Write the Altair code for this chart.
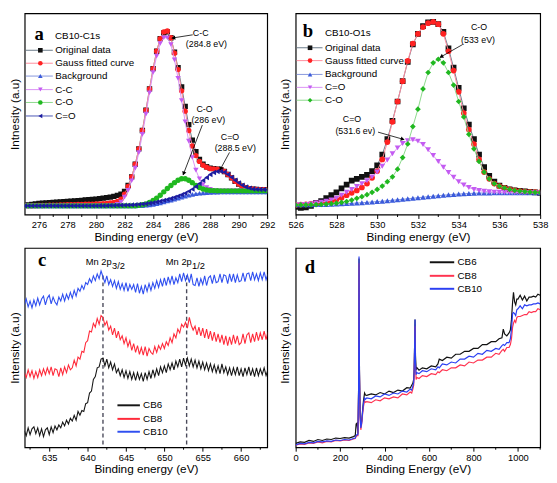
import math
import altair as alt
import pandas as pd

FONT = "Liberation Sans"
SERIF = "Liberation Serif"

# ---------------- panel a : CB10-C1s (intensity in picture units) ----------------
A_X = [round(275 + 0.25 * i, 2) for i in range(69)]
A_ORIG = [9.5, 10, 10.5, 11, 11.5, 11.8, 12, 12.3, 12.5, 12.8, 13, 13.3,
          13.5, 13.8, 14, 14.3, 14.6, 15, 15.3, 15.7, 16, 16.5, 17, 17.5,
          18, 18.8, 19.8, 21, 24, 30, 39, 52, 68, 87, 108, 130,
          151, 169, 182, 188, 189, 183, 168, 152, 132, 112, 93, 77,
          65, 57, 52, 49.5, 48, 47.5, 47, 46.5, 44.5, 41.5, 38, 34.5,
          31.5, 29.3, 27.8, 26.8, 26.2, 25.9, 25.7, 25.6, 25.5]
A_FIT = [9.0, 9.0, 9.1, 9.2, 9.3, 9.4, 9.5, 9.6, 9.7, 9.8, 9.9, 10.0,
         10.1, 10.2, 10.3, 10.4, 10.5, 10.6, 10.7, 10.8, 10.9, 11.1, 11.3, 11.6,
         12.0, 12.6, 13.6, 16.0, 21, 29, 39, 52, 68, 87, 108, 130,
         151, 169, 182, 189, 190, 183, 167, 150, 128, 107, 87, 71,
         61, 55, 51, 49, 47.5, 47.3, 47, 46.3, 44.5, 41.5, 38, 34.5,
         31.5, 29.3, 27.8, 26.8, 26.2, 25.9, 25.7, 25.6, 25.5]
A_BG = [9, 9, 9, 9, 9, 9, 9, 9, 9, 9, 9, 9, 9, 9, 9, 9,
        9, 9, 9, 9, 9, 9, 9, 9, 9, 9, 9, 9, 9, 9, 9, 9,
        9.1, 9.3, 9.6, 10, 10.5, 11.2, 12, 13, 14, 15, 16, 17,
        18, 19, 20, 20.8, 21.5, 22, 22.4, 22.7, 23, 23.1, 23.2, 23.3,
        23.4, 23.4, 23.5, 23.5, 23.5, 23.5, 23.5, 23.5, 23.5, 23.5, 23.5, 23.5, 23.5]
A_CC = [9, 9, 9, 9, 9, 9, 9, 9, 9, 9, 9, 9,
        9, 9, 9, 9, 9, 9, 9, 9, 9, 9, 9, 9,
        9.2, 9.6, 10.5, 13, 18, 25, 35, 48, 64, 83, 104, 126,
        147, 164, 177, 183, 183, 176, 160, 141, 118, 96, 76, 59,
        46, 37, 31, 28, 26, 25, 24.5, 24.5,
        24.5, 24.5, 24.5, 24.5, 24.5, 24.5, 24.5, 24.5, 24.5, 24.5, 24.5, 24.5, 24.5]
A_CO = [9, 9, 9, 9, 9, 9, 9, 9, 9, 9, 9, 9, 9, 9, 9, 9,
        9, 9, 9, 9, 9, 9, 9, 9, 9, 9, 9, 9, 9, 9, 9, 9,
        9.5, 10.2, 11, 12.5, 14.5, 17, 20, 23.5, 27, 30, 33, 35.5,
        37, 37, 35.5, 33, 30, 28, 26.5, 25.5, 25, 24.8, 24.6, 24.5,
        24.5, 24.5, 24.5, 24.5, 24.5, 24.5, 24.5, 24.5, 24.5, 24.5, 24.5, 24.5, 24.5]
A_CDO = [9, 9, 9, 9, 9, 9, 9, 9, 9, 9, 9, 9, 9, 9, 9, 9, 9, 9, 9, 9,
         9.0, 9.1, 9.1, 9.2, 9.3, 9.4, 9.5, 9.6, 9.7, 9.8, 10.0, 10.2,
         10.5, 10.8, 11.2, 11.7, 12.2, 13.0, 13.8, 14.7, 15.6, 16.6, 17.8, 19.1,
         20.5, 22, 24, 26.3, 29, 32, 35.3, 38.3, 41.5, 43.5, 44.5, 44.7,
         43.8, 41.5, 38.5, 35.5, 32.8, 30.3, 28.5, 27.3, 26.5, 26.1, 25.9, 25.8, 25.7]

# ---------------- panel b : CB10-O1s ----------------
B_X = [round(526 + 0.25 * i, 2) for i in range(49)]
B_ORIG = [8, 7, 7.5, 9, 12, 14, 17, 20, 23, 27, 31, 35, 37, 39, 41, 45,
          51, 62, 78, 97, 117, 138, 158, 176, 187, 195, 199, 199.5,
          197, 189, 172, 152, 131, 110, 93, 78, 62, 49, 40, 34,
          30, 27.5, 26, 25, 24.5, 24, 23.5, 23, 22.5]
B_FIT = [10, 10.3, 10.6, 11, 11.5, 12, 12.8, 14, 15.5, 17.5, 20, 22.5, 25, 28, 32, 38,
         45, 57, 75, 96, 117, 138, 159, 177, 187, 194, 198, 199.5,
         197, 187, 169, 149, 127, 105, 88, 73, 57, 44, 37, 32,
         29.5, 27.5, 26, 25, 24.3, 23.8, 23.5, 23.2, 23]
B_BG = [10, 10, 10.1, 10.2, 10.3, 10.4, 10.5, 10.7, 10.9, 11.1, 11.3, 11.6,
        11.9, 12.2, 12.6, 13.0, 13.4, 13.8, 14.3, 14.8, 15.3, 15.8, 16.3, 16.9,
        17.4, 18.0, 18.5, 19.0, 19.5, 20.0, 20.4, 20.8, 21.2, 21.5, 21.8, 22.0,
        22.2, 22.3, 22.4, 22.5, 22.5, 22.5, 22.5, 22.5, 22.5, 22.5, 22.5, 22.5, 22.5]
B_CDO = [10, 10.2, 10.5, 11, 12, 12.8, 13.8, 15.2, 17, 20, 23, 26, 29, 32, 35, 39,
         44, 50, 56.5, 63, 69, 73.5, 76.5, 77.3, 76, 72.5, 67, 61,
         55, 49, 43.5, 38.5, 34, 30.5, 28, 26, 24.8, 24, 23.5, 23.2,
         23, 22.9, 22.8, 22.7, 22.6, 22.6, 22.5, 22.5, 22.5]
B_CO = [10, 10, 10.1, 10.2, 10.3, 10.5, 10.8, 11.2, 11.8, 12.5, 13.5, 15,
        16.8, 18.5, 20.5, 23, 26, 29.5, 34, 39, 47, 59, 73, 91,
        109, 130, 147, 157, 160.7, 157, 147, 134, 117, 101, 83, 68,
        55, 44, 37, 32, 29.5, 27.5, 26, 25, 24.3, 23.8, 23.3, 23, 22.8]

# ---------------- panel c : Mn 2p ----------------
C_X = [round(631.75 + 0.25 * i, 2) for i in range(128)]
C_CB10 = [147,
          153, 145, 151, 144, 152, 146, 154, 147, 153, 156, 147, 154,
          157, 148, 155, 150, 147, 155, 151, 158, 151, 158, 153, 160,
          154, 162, 156, 164, 161, 167, 163, 170, 168, 174, 170, 177,
          172, 179, 174, 182, 176, 170, 177, 168, 173, 166, 172, 164,
          171, 163, 169, 162, 170, 161, 168, 163, 168, 160, 169, 159,
          166, 158, 168, 161, 169, 162, 170, 164, 172, 165, 173, 166,
          175, 167, 176, 169, 177, 168, 175, 170, 179, 171, 180, 172,
          178, 170, 179, 168, 167, 175, 166, 174, 168, 177, 167, 175,
          177, 169, 178, 170, 171, 179, 170, 178, 177, 169, 179, 171,
          179, 170, 178, 171, 172, 180, 171, 179, 180, 172, 181, 173,
          179, 172, 180, 173, 181, 173, 179]
C_CB8 = [77,
         72, 80, 73, 79, 71, 78, 72, 80, 74, 81, 75, 82,
         76, 83, 74, 81, 80, 73, 82, 75, 83, 77, 85, 80,
         82, 90, 84, 93, 91, 99, 98, 108, 110, 120, 119, 128,
         124, 133, 127, 136, 134, 126, 130, 121, 125, 116, 123, 113,
         120, 111, 115, 107, 113, 104, 110, 100, 107, 98, 105, 96,
         103, 95, 104, 94, 102, 98, 96, 104, 98, 105, 101, 107,
         102, 109, 105, 113, 108, 117, 113, 122, 118, 127, 124, 129,
         123, 134, 126, 121, 125, 116, 124, 115, 123, 113, 122, 112,
         120, 110, 119, 109, 117, 108, 116, 106, 115, 105, 114, 106,
         116, 107, 115, 106, 108, 117, 107, 116, 118, 108, 117, 109,
         119, 110, 118, 111, 120, 111, 119]
C_CB6 = [17,
         12, 20, 13, 19, 21, 14, 20, 12, 19, 11, 18, 20,
         13, 21, 15, 22, 18, 23, 20, 26, 22, 28, 24, 30,
         27, 33, 28, 37, 33, 38, 37, 45, 46, 56, 58, 70,
         73, 82, 83, 91, 92, 84, 91, 82, 88, 80, 86, 77,
         81, 74, 80, 72, 79, 71, 78, 70, 77, 69, 77, 70,
         76, 68, 77, 70, 78, 71, 80, 73, 81, 74, 83, 77,
         84, 77, 86, 80, 87, 80, 89, 83, 91, 83, 92, 85,
         92, 84, 91, 83, 90, 82, 89, 81, 88, 80, 87, 79,
         86, 78, 85, 77, 84, 76, 86, 77, 83, 75, 82, 74,
         82, 75, 83, 74, 81, 73, 82, 75, 83, 74, 81, 73,
         82, 74, 81, 75, 82, 74, 80]

# ---------------- panel d : survey ----------------
D_X = [0, 20, 40, 60, 80, 100, 120, 140, 160, 180,
       200, 220, 240, 260, 268, 272, 276, 280, 283, 285,
       287, 290, 293, 297, 301, 305, 310, 314, 320, 340,
       360, 380, 400, 420, 440, 460, 480, 500, 515, 522,
       527, 531, 533, 535, 537, 539, 542, 546, 555, 570,
       590, 610, 630, 640, 646, 660, 680, 700, 720, 740,
       760, 780, 800, 820, 840, 860, 880, 900, 915, 928,
       934, 940, 950, 960, 966, 971, 976, 980, 985, 990,
       995, 1000, 1010, 1020, 1030, 1040, 1050, 1060, 1070, 1080,
       1090, 1100]
D_CB6 = [4, 5.5, 5, 7, 6, 8, 7, 8.5, 8, 9.5,
         9, 10, 9.5, 11, 12, 24, 25, 14, 60, 195,
         80, 35, 22, 27, 38, 48, 56, 54, 53.5, 55,
         54, 56.5, 55, 58, 56.5, 59, 58, 61.5, 61, 64,
         66, 70, 80, 105, 132, 95, 80, 82, 79.5, 82,
         81, 84, 83, 86, 91, 89.5, 93, 92, 96, 96,
         99, 99, 102, 102, 106, 106, 109, 109, 112, 113,
         122, 117, 115, 118, 121, 132, 150, 160, 150, 147,
         153, 153, 157, 152, 156, 151, 155, 155, 156, 155,
         158, 157]
D_CB8 = [2, 3.5, 3, 4.5, 4, 5.5, 4.5, 6, 5.5, 7,
         6.5, 7.5, 7, 8.5, 9, 11, 12, 12, 55, 190,
         75, 30, 18, 24, 34, 42, 48, 46.5, 47, 46,
         49, 48, 51, 50, 52, 51, 55, 54, 57, 56,
         60, 64, 75, 100, 125, 85, 70, 72, 71, 74,
         73, 76, 75, 78, 77, 80, 79, 82, 82, 85,
         84, 88, 87, 90, 90, 93, 93, 97, 96, 100,
         101, 99, 103, 103, 106, 112, 124, 128, 131, 129,
         134, 135, 135, 136, 137, 137, 140, 139, 140, 140,
         143, 142]
D_CB10 = [2.5, 4, 3.5, 5, 4.5, 6, 5.5, 6.5, 6, 7.5,
          7, 8, 7.5, 9, 9.5, 12, 13, 13, 58, 197,
          78, 32, 20, 25, 36, 45, 51, 49.5, 51, 50,
          53, 52, 55, 53.5, 56, 55, 58, 57, 60, 59,
          63, 67, 78, 104, 132, 88, 75, 77, 76, 79,
          78, 81, 80, 83, 82, 86, 85, 88, 87, 91,
          91, 94, 93, 97, 96, 100, 99, 102, 101, 105,
          106, 105, 108, 108, 112, 122, 138, 139, 138, 136,
          142, 143, 146, 143, 147, 146, 147, 147, 148, 148,
          149, 148]

# tick values
A_TICKS = [276, 278, 280, 282, 284, 286, 288, 290, 292]
A_MINOR = [277, 279, 281, 283, 285, 287, 289, 291]
B_TICKS = [526, 528, 530, 532, 534, 536, 538]
B_MINOR = [527, 529, 531, 533, 535, 537]
C_TICKS = [635, 640, 645, 650, 655, 660]
C_MINOR = [632.5, 637.5, 642.5, 647.5, 652.5, 657.5, 662.5]
D_TICKS = [0, 200, 400, 600, 800, 1000]
D_MINOR = [100, 300, 500, 700, 900, 1100]
C_PEAKS = [642.0, 652.9]

# reference frame geometry (used to place labels relative to each panel)
REF = {
    "a": dict(left=16.7, top=1.0, w=252.6, h=208.3, xd=(275, 292), yd=(0, 208.3)),
    "b": dict(left=296.0, top=1.0, w=250.3, h=208.3, xd=(526, 538), yd=(0, 208.3)),
    "c": dict(left=16.7, top=243.5, w=252.6, h=205.8, xd=(631.8, 663.4), yd=(0, 205.8)),
    "d": dict(left=296.0, top=243.5, w=250.3, h=205.8, xd=(0, 1100), yd=(0, 205.8)),
}


def ref_xy(p, px, py):
    g = REF[p]
    (x0, x1), (y0, y1) = g["xd"], g["yd"]
    x = x0 + (px - g["left"]) / g["w"] * (x1 - x0)
    y = y0 + (g["top"] + g["h"] - py) / g["h"] * (y1 - y0)
    return round(x, 4), round(y, 4)


def axes(p, xvals, xtitle, ytitle, ytpad):
    g = REF[p]
    X = alt.X("x:Q", scale=alt.Scale(domain=list(g["xd"]), nice=False, zero=False),
              axis=alt.Axis(values=xvals, format="d", title=xtitle, grid=False, domain=False,
                            tickSize=4, tickWidth=1, tickColor="black",
                            labelFont=FONT, labelFontSize=9.5, labelColor="black", labelPadding=1.5,
                            labelFlush=False, labelOverlap=False,
                            titleFont=FONT, titleFontSize=12, titleFontWeight="normal",
                            titleColor="black", titlePadding=2))
    Y = alt.Y("y:Q", scale=alt.Scale(domain=list(g["yd"]), nice=False, zero=False),
              axis=alt.Axis(title=ytitle, labels=False, ticks=False, domain=False, grid=False,
                            titleFont=FONT, titleFontSize=12, titleFontWeight="normal",
                            titleColor="black", titlePadding=ytpad))
    return X, Y


def minor_ticks(X, vals, H):
    return alt.Chart(pd.DataFrame({"x": vals})).mark_rule(color="black", strokeWidth=1).encode(
        x=X, y=alt.value(H), y2=alt.value(H + 2.5))


def marker_series(X, Y, xs, ys, color, lcolor, shape, size=26):
    assert len(xs) == len(ys)
    base = alt.Chart(pd.DataFrame({"x": xs, "y": ys})).encode(x=X, y=Y)
    return [base.mark_line(color=lcolor, strokeWidth=1, clip=True),
            base.mark_point(shape=shape, filled=True, color=color, size=size, opacity=1,
                            strokeWidth=0, clip=True)]


def line_series(X, Y, xs, ys, color, width=1.1):
    assert len(xs) == len(ys)
    return alt.Chart(pd.DataFrame({"x": xs, "y": ys})).mark_line(
        color=color, strokeWidth=width, clip=True).encode(x=X, y=Y)


def texts(p, X, Y, items, **kw):
    rows = []
    for px, py, t in items:
        x, y = ref_xy(p, px, py)
        rows.append({"x": x, "y": y, "t": t})
    return alt.Chart(pd.DataFrame(rows)).mark_text(**kw).encode(x=X, y=Y, text="t:N")


def arrow(p, X, Y, start, tip):
    x1, y1 = ref_xy(p, *start)
    x2, y2 = ref_xy(p, *tip)
    dx, dy = tip[0] - start[0], tip[1] - start[1]
    L = math.hypot(dx, dy)
    ang = math.degrees(math.atan2(dx, -dy)) % 360
    hx, hy = ref_xy(p, tip[0] - 2.2 * dx / L, tip[1] - 2.2 * dy / L)
    line = alt.Chart(pd.DataFrame({"x": [x1], "y": [y1], "x2": [x2], "y2": [y2]})).mark_rule(
        color="black", strokeWidth=0.8).encode(x=X, y=Y, x2="x2:Q", y2="y2:Q")
    head = alt.Chart(pd.DataFrame({"x": [hx], "y": [hy]})).mark_point(
        shape="triangle", filled=True, color="black", size=20, angle=ang, opacity=1,
        strokeWidth=0).encode(x=X, y=Y)
    return [line, head]


def legend(p, X, Y, rows, ys, lx1, lx2, mx, tx, line_w, fs, with_marker=True):
    rr, pp, tt = [], [], []
    for (lab, col, lcol, shp), py in zip(rows, ys):
        x1, y = ref_xy(p, lx1, py)
        x2, _ = ref_xy(p, lx2, py)
        xm, _ = ref_xy(p, mx, py)
        xt, _ = ref_xy(p, tx, py)
        rr.append({"x": x1, "x2": x2, "y": y, "c": lcol})
        pp.append({"x": xm, "y": y, "c": col, "s": shp})
        tt.append({"x": xt, "y": y, "t": lab})
    out = [alt.Chart(pd.DataFrame(rr)).mark_rule(strokeWidth=line_w).encode(
        x=X, x2="x2:Q", y=Y, color=alt.Color("c:N", scale=None))]
    if with_marker:
        out.append(alt.Chart(pd.DataFrame(pp)).mark_point(filled=True, size=22, opacity=1, strokeWidth=0).encode(
            x=X, y=Y, color=alt.Color("c:N", scale=None), shape=alt.Shape("s:N", scale=None)))
    out.append(alt.Chart(pd.DataFrame(tt)).mark_text(
        align="left", baseline="middle", font=FONT, fontSize=fs, color="black").encode(x=X, y=Y, text="t:N"))
    return out


W_L, W_R, H_T, H_B = 247, 249, 205, 203

# ---------- panel a ----------
X, Y = axes("a", A_TICKS, "Binding energy (eV)", "Intnesity (a.u)", 3)
A_STYLE = [("Original data", "#111111", "#6a7a8a", "square"),
           ("Gauss fitted curve", "#ff2222", "#ff8c9c", "circle"),
           ("Background", "#3b5bdb", "#8797dd", "triangle-up"),
           ("C-C", "#c45cf2", "#da92f4", "triangle-down"),
           ("C-O", "#20b820", "#8cd88c", "circle"),
           ("C=O", "#1c1ca0", "#4a55b5", "triangle-left")]
layers = [minor_ticks(X, A_MINOR, H_T)]
for (lab, col, lcol, shp), ys in zip(A_STYLE, [A_ORIG, A_FIT, A_BG, A_CC, A_CO, A_CDO]):
    layers += marker_series(X, Y, A_X, ys, col, lcol, shp, 30)
layers += legend("a", X, Y, A_STYLE, [39.3, 52.7, 66.0, 80.0, 93.3, 107.3], 18, 46, 33, 48.5, 1, 10)
layers.append(texts("a", X, Y, [(48.3, 25, "CB10-C1s")], align="left", baseline="middle",
                    font=FONT, fontSize=10, color="black"))
layers.append(texts("a", X, Y, [(200, 21.3, "C-C"), (206, 32.5, "(284.8 eV)"),
                                (204, 100, "C-O"), (208, 111.3, "(286 eV)"),
                                (230.5, 129, "C=O"), (236, 140.8, "(288.5 eV)")],
                    align="center", baseline="middle", font=FONT, fontSize=9, color="black"))
layers += arrow("a", X, Y, (191.7, 23.3), (170, 26.7))
layers += arrow("a", X, Y, (201.7, 116.7), (181.7, 168.3))
layers += arrow("a", X, Y, (230, 145), (220, 163.3))
layers.append(texts("a", X, Y, [(31.7, 28.3, "a")], align="center", baseline="alphabetic",
                    font=SERIF, fontSize=19, fontWeight="bold", color="black"))
pa = alt.layer(*layers).properties(width=W_L, height=H_T)

# ---------- panel b ----------
X, Y = axes("b", B_TICKS, "Binding energy (eV)", "Intnesity (a.u)", 4)
B_STYLE = [("Original data", "#111111", "#6a7a8a", "square"),
           ("Gauss fitted curve", "#ff2222", "#ff8c9c", "circle"),
           ("Background", "#3b5bdb", "#8797dd", "triangle-up"),
           ("C=O", "#c45cf2", "#da92f4", "triangle-down"),
           ("C-O", "#20b820", "#8cd88c", "diamond")]
layers = [minor_ticks(X, B_MINOR, H_T)]
for (lab, col, lcol, shp), ys in zip(B_STYLE, [B_ORIG, B_FIT, B_BG, B_CDO, B_CO]):
    layers += marker_series(X, Y, B_X, ys, col, lcol, shp, 34)
layers += legend("b", X, Y, B_STYLE, [36.7, 50.0, 64.3, 77.7, 91.0], 297, 323.5, 310.7, 326, 1, 10)
layers.append(texts("b", X, Y, [(326, 21.7, "CB10-O1s")], align="left", baseline="middle",
                    font=FONT, fontSize=10, color="black"))
layers.append(texts("b", X, Y, [(483.7, 15, "C-O"), (482.7, 28.3, "(533 eV)"),
                                (353.7, 110, "C=O"), (357, 123.3, "(531.6 ev)")],
                    align="center", baseline="middle", font=FONT, fontSize=9, color="black"))
layers += arrow("b", X, Y, (467, 33.3), (443.7, 46.7))
layers += arrow("b", X, Y, (380.3, 124), (407, 131.7))
layers.append(texts("b", X, Y, [(308.5, 26, "b")], align="center", baseline="alphabetic",
                    font=SERIF, fontSize=19, fontWeight="bold", color="black"))
pb = alt.layer(*layers).properties(width=W_R, height=H_T)

# ---------- panel c ----------
X, Y = axes("c", C_TICKS, "Binding energy (eV)", "Intensity (a.u)", 3)
layers = [minor_ticks(X, C_MINOR, H_B)]
_, ytop = ref_xy("c", 0, 272)
layers.append(alt.Chart(pd.DataFrame({"x": C_PEAKS, "y": [ytop, ytop], "y2": [0, 0]})).mark_rule(
    color="#4a4a5a", strokeWidth=1.4, strokeDash=[4, 3]).encode(x=X, y=Y, y2="y2:Q"))
C_STYLE = [("CB6", "#161616", "#161616", "circle"),
           ("CB8", "#ff2a3a", "#ff2a3a", "circle"),
           ("CB10", "#2f4ff0", "#2f4ff0", "circle")]
for (lab, col, _l, _s), ys in zip(C_STYLE, [C_CB6, C_CB8, C_CB10]):
    layers.append(line_series(X, Y, C_X, ys, col, 1.1))
layers.append(texts("c", X, Y, [(107.3, 260.8, "Mn 2p"), (190.7, 260.8, "Mn 2p")],
                    align="right", baseline="alphabetic", font=FONT, fontSize=9.5, color="black"))
layers.append(texts("c", X, Y, [(107.6, 264.8, "3/2"), (191.0, 264.8, "1/2")],
                    align="left", baseline="alphabetic", font=FONT, fontSize=9.5, color="black"))
layers += legend("c", X, Y, C_STYLE, [406, 420, 433.3], 113.3, 136.7, 125, 140, 2, 10, with_marker=False)
layers.append(texts("c", X, Y, [(35, 262, "c")], align="center", baseline="alphabetic",
                    font=SERIF, fontSize=19, fontWeight="bold", color="black"))
pc = alt.layer(*layers).properties(width=W_L, height=H_B)

# ---------- panel d ----------
X, Y = axes("d", D_TICKS, "Binding Energy (eV)", "Intensity (a.u)", 4)
layers = [minor_ticks(X, D_MINOR, H_B)]
D_STYLE = [("CB6", "#111111", "#111111", "circle"),
           ("CB8", "#ff3350", "#ff3350", "circle"),
           ("CB10", "#2b3ff2", "#2b3ff2", "circle")]
for (lab, col, _l, _s), ys in zip(D_STYLE, [D_CB6, D_CB8, D_CB10]):
    layers.append(line_series(X, Y, D_X, ys, col, 1.2))
layers += legend("d", X, Y, D_STYLE, [258.3, 272.3, 285.7], 433.3, 458.3, 445, 461.7, 2, 10, with_marker=False)
layers.append(texts("d", X, Y, [(310.5, 269, "d")], align="center", baseline="alphabetic",
                    font=SERIF, fontSize=19, fontWeight="bold", color="black"))
pd_ = alt.layer(*layers).properties(width=W_R, height=H_B)

top = alt.hconcat(pa, pb, spacing=2)
bot = alt.hconcat(pc, pd_, spacing=10)
chart = alt.vconcat(top, bot, spacing=4).properties(padding=0).configure_view(
    stroke="black", strokeWidth=1.2)
chart.save("out.html", embed_options={"renderer": "svg", "actions": False})
